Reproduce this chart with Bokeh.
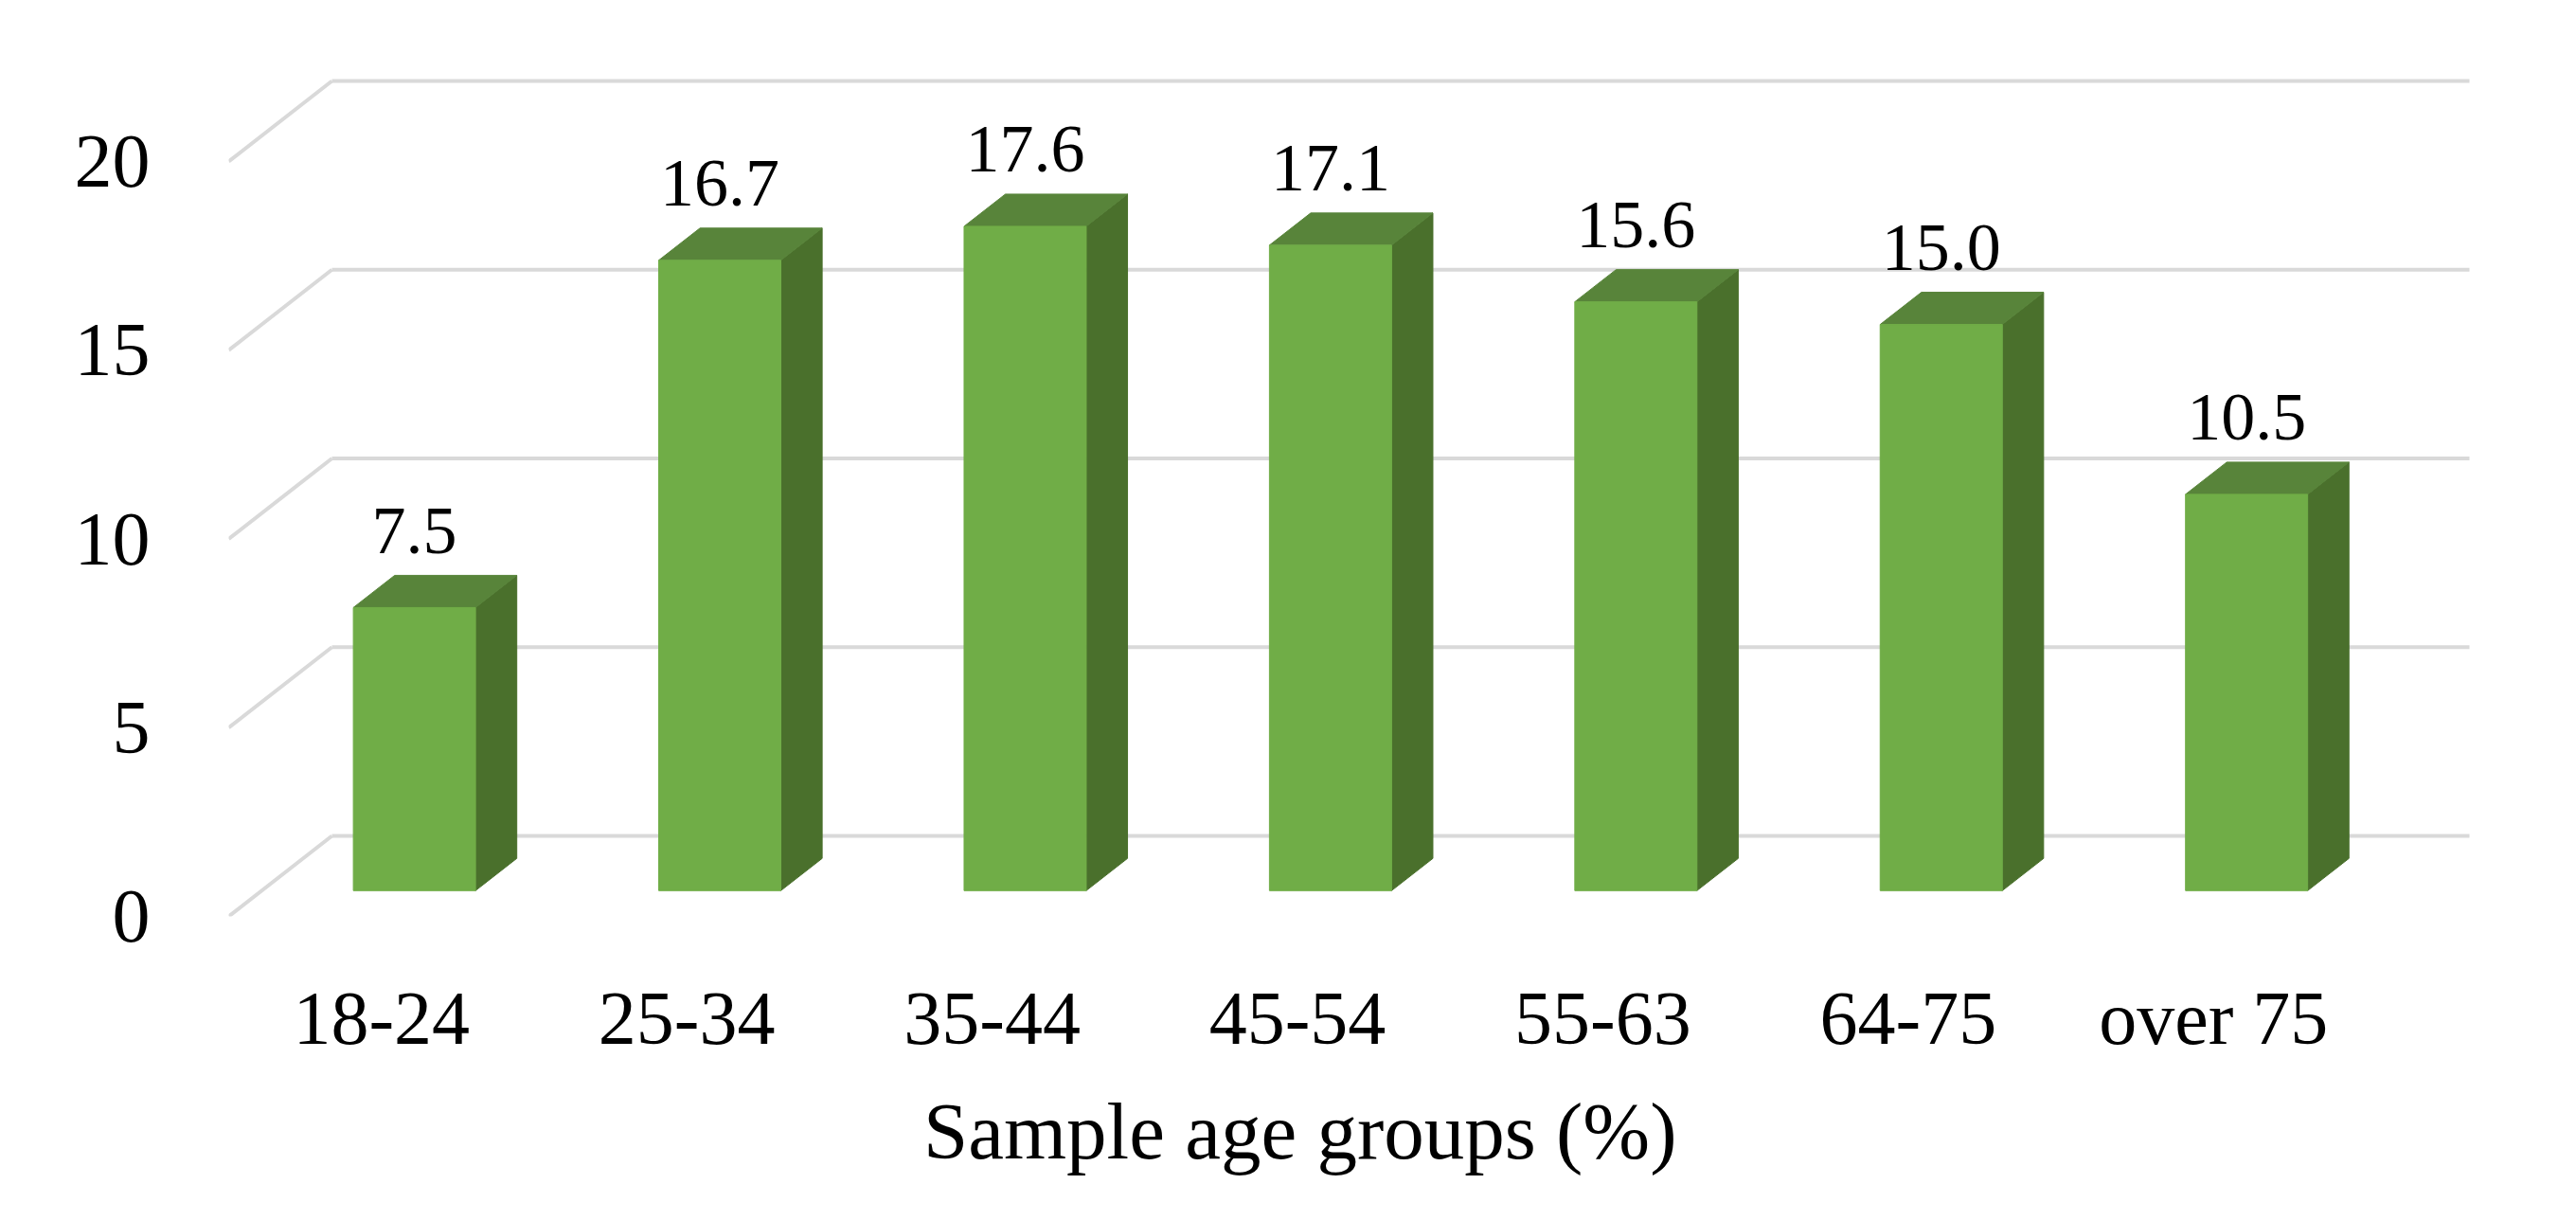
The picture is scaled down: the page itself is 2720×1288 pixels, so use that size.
from bokeh.plotting import figure
from bokeh.models import Range1d, FixedTicker, ColumnDataSource, Title
from bokeh.embed import file_html
from bokeh.resources import INLINE
from bokeh.core.properties import value

# ---- data ----
categories = ["18-24", "25-34", "35-44", "45-54", "55-63", "64-75", "over 75"]
shares = [7.5, 16.7, 17.6, 17.1, 15.6, 15.0, 10.5]
y_ticks = [0, 5, 10, 15, 20]
axis_title = "Sample age groups (%)"

# ---- layout constants (pixels) ----
W, H = 2704, 1272
FRAME_L, FRAME_R, FRAME_T, FRAME_B = 241, 2620, 40, 967   # image coords
PX_CAT = 322.43      # px per category on front floor edge
PX_UNIT = 39.85      # px per value unit
DEPTH_PX = (109, 85)  # depth vector, front -> back (right, up)
DX = DEPTH_PX[0] / PX_CAT
DY = DEPTH_PX[1] / PX_UNIT
F1, F2 = 0.32, 0.72   # bar depth fractions (front, back)
BAR_W = 0.4
TITLE_W = 790         # approx rendered width of the axis title

FONT = "Liberation Serif"
C_FRONT, C_TOP, C_SIDE = "#70ad47", "#58843a", "#4a702c"
C_GRID = "#d9d9d9"

n = len(categories)
p = figure(width=W, height=H, output_backend="svg", toolbar_location=None,
           x_range=Range1d(0, (FRAME_R - FRAME_L) / PX_CAT),
           y_range=Range1d(0, (FRAME_B - FRAME_T) / PX_UNIT),
           min_border_left=FRAME_L, min_border_right=W - FRAME_R,
           min_border_top=FRAME_T, min_border_bottom=H - FRAME_B)
p.outline_line_color = None
p.xgrid.visible = False
p.ygrid.visible = False
p.background_fill_color = "white"
p.border_fill_color = "white"

# gridlines: back wall + left wall diagonals
gx, gy = [], []
for v in y_ticks:
    gx.append([DX, n + DX]); gy.append([v + DY, v + DY])
    gx.append([0, DX]); gy.append([v, v + DY])
p.multi_line(xs=gx, ys=gy, line_color=C_GRID, line_width=4)

# bars
fx, fy, tx, ty, sx, sy = [], [], [], [], [], []
lab_x, lab_y, lab_t = [], [], []
d = F2 - F1
for i, v in enumerate(shares):
    c = i + 0.5
    xl = c - BAR_W / 2 + F1 * DX
    xr = c + BAR_W / 2 + F1 * DX
    y0 = F1 * DY
    y1 = v + F1 * DY
    fx.append([xl, xr, xr, xl]); fy.append([y0, y0, y1, y1])
    tx.append([xl, xr, xr + d * DX, xl + d * DX]); ty.append([y1, y1, y1 + d * DY, y1 + d * DY])
    sx.append([xr, xr + d * DX, xr + d * DX, xr]); sy.append([y0, y0 + d * DY, y1 + d * DY, y1])
    lab_x.append(c + F1 * DX); lab_y.append(y1); lab_t.append(f"{v:.1f}")

p.patches(xs=sx, ys=sy, fill_color=C_SIDE, line_color=C_SIDE, line_width=1)
p.patches(xs=tx, ys=ty, fill_color=C_TOP, line_color=C_TOP, line_width=1)
p.patches(xs=fx, ys=fy, fill_color=C_FRONT, line_color=C_FRONT, line_width=1)

src = ColumnDataSource(dict(x=lab_x, y=lab_y, t=lab_t))
p.text(x="x", y="y", text="t", source=src, y_offset=-81, text_align="center",
       text_baseline="alphabetic", text_font=value(FONT), text_font_size="72px",
       text_color="black")

# axes
ya = p.yaxis[0]
ya.ticker = FixedTicker(ticks=y_ticks)
ya.axis_line_color = None
ya.major_tick_line_color = None
ya.minor_tick_line_color = None
ya.major_tick_out = 0
ya.major_label_standoff = 83
ya.major_label_text_font = FONT
ya.major_label_text_font_size = "80px"
ya.major_label_text_color = "black"

xa = p.xaxis[0]
xa.ticker = FixedTicker(ticks=[i + 0.5 for i in range(n)])
xa.major_label_overrides = {i + 0.5: c for i, c in enumerate(categories)}
xa.axis_line_color = None
xa.major_tick_line_color = None
xa.minor_tick_line_color = None
xa.major_tick_out = 0
xa.major_label_standoff = 63
xa.major_label_text_font = FONT
xa.major_label_text_font_size = "80px"
xa.major_label_text_color = "black"

# axis title, centred on the category floor
left_offset = (n / 2) * PX_CAT - TITLE_W / 2
t = Title(text=axis_title, align="left", offset=left_offset, standoff=47,
          text_font=FONT, text_font_size="85px", text_font_style="normal",
          text_color="black")
p.add_layout(t, "below")

open("out.html", "w").write(file_html(p, INLINE))
